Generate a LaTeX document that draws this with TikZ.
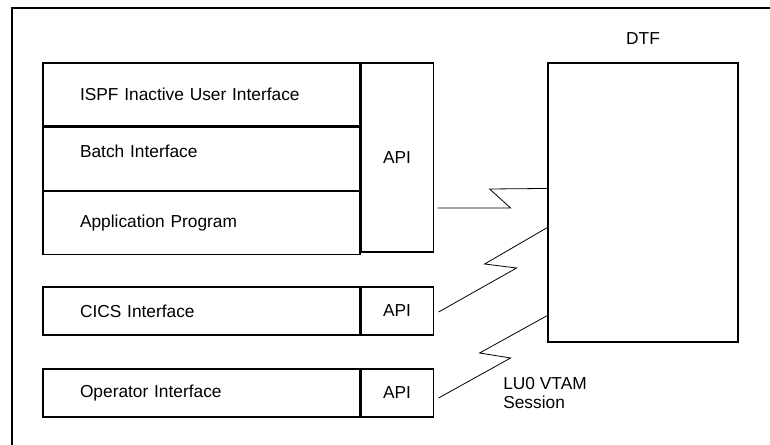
\documentclass[tikz,border=0pt]{standalone}
\usepackage{fontspec}
\setmainfont{Liberation Sans}
\usepackage{tikz}
\usetikzlibrary{positioning,calc}
\tikzstyle{layer} = [draw, rectangle, line width=0.8pt, minimum width=237.75pt,
minimum height=47.25pt, text width=182.25pt, inner xsep=27.75pt, align=left]
\tikzstyle{short} = [layer, minimum height=36pt]
\tikzstyle{api} = [draw, rectangle, line width=0.8pt, minimum width=54pt, inner sep=0pt]
\tikzstyle{link} = [line width=0.6pt]

\begin{document}
\begin{tikzpicture}[x=0.75pt, y=-0.75pt, font=\fontsize{13}{15}\selectfont]
	\useasboundingbox (0,0) rectangle (770,445);
	\draw [line width=0.8pt] (770,8) -- (12,8) -- (12,445);

	\node [layer] (ISPF) at (201.5,94.5) {ISPF Inactive User Interface};
	\node [layer, below=0pt of ISPF, text depth=10.5pt] (Batch) {Batch Interface};
	\node [layer, below=0pt of Batch] (Appl) {Application Program};
	\node [api, minimum height=141.75pt, anchor=north west] (API) at (ISPF.north east) {API};
	\node [short] (CICS) at (201.5,311) {CICS Interface};
	\node [api, minimum height=36pt, right=0pt of CICS] (CICSAPI) {API};
	\node [short] (Operator) at (201.5,393) {Operator Interface};
	\node [api, minimum height=36pt, right=0pt of Operator] (OperatorAPI) {API};
	\node [draw, rectangle, line width=0.8pt, minimum width=142.5pt, minimum height=209.25pt] (DTF) at (643,202.5) {};
	\node [above=10pt of DTF] (DTFLabel) {DTF};
	\node [anchor=west, align=left, inner sep=0pt, font=\fontsize{13}{14.5}\selectfont] (Session) at (503,393) {LU0 VTAM\\Session};

	\coordinate (InA) at ($(DTF.north west)+(0,126)$);
	\coordinate (InB) at ($(DTF.north west)+(0,165)$);
	\coordinate (InC) at ($(DTF.north west)+(0,253)$);

	\draw [link] ($(API.east)+(4,50.5)$) -- ++(73,0) -- ++(-21,-19) -- (InA);
	\draw [link] ($(CICSAPI.east)+(5,1)$) -- ++(78,-44) -- ++(-32,-4) -- (InB);
	\draw [link] ($(OperatorAPI.east)+(5,5)$) -- ++(72,-40) -- ++(-31,-5) -- (InC);

\end{tikzpicture}
\end{document}
